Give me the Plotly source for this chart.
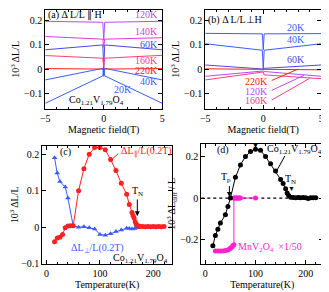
import plotly.graph_objects as go

W, H = 329, 292
FONT = "Liberation Serif"
FS = 10

# ---------------- data ----------------
field = [-5, -0.08, 0, 0.08, 5]

a_20K = [-0.142, -0.028, 0.004, -0.028, -0.142]
a_40K = [-0.045, 0.003, -0.030, 0.003, -0.045]
a_60K = [0.080, 0.100, 0.000, 0.100, 0.080]
a_120K = [0.198, 0.194, 0.120, 0.194, 0.198]
a_140K = [0.135, 0.124, 0.090, 0.124, 0.130]
a_160K = [0.056, 0.045, 0.010, 0.045, 0.057]
a_220K = [0.002, 0.000, -0.004, 0.000, 0.002]

b_20K = [0.148, 0.146, 0.080, 0.146, 0.147]
b_40K = [0.105, 0.078, 0.000, 0.078, 0.105]
b_60K = [0.017, 0.003, 0.000, 0.003, 0.017]
b_220K = [0.001, 0.000, 0.000, 0.000, -0.003]
b_120K = [-0.030, -0.006, -0.008, -0.010, -0.030]
b_160K = [-0.045, -0.010, -0.012, -0.024, -0.040]

c_T_par = [15, 20, 25, 30, 35, 40, 45, 50, 60, 70, 80, 90, 100, 110, 120, 130, 140, 150,
           155, 160, 162, 164, 166, 168, 170, 172, 175, 180, 185, 190, 195, 200, 205, 210, 215, 220]
c_par = [-0.040, -0.030, -0.028, -0.020, -0.002, 0.003, 0.004, 0.004, 0.100, 0.160, 0.200, 0.218,
         0.218, 0.212, 0.185, 0.155, 0.120, 0.090, 0.062, 0.040, 0.032, 0.025, 0.015, 0.008, 0.004,
         0.003, 0.002, 0.002, 0.001, 0.002, 0.001, 0.002, 0.001, 0.002, 0.001, 0.002]
c_T_perp = [15, 20, 25, 35, 40, 50, 60, 70, 80, 90, 100, 110, 120, 130, 140, 150, 155, 160, 165, 170]
c_perp = [0.190, 0.148, 0.125, 0.110, 0.080, 0.003, 0.000, 0.001, -0.002, -0.005, -0.020, -0.022,
          -0.018, -0.012, -0.008, -0.003, -0.004, -0.005, -0.004, -0.002]

d_T_co = [15, 20, 25, 30, 40, 45, 50, 60, 70, 80, 90, 100, 110, 120, 130, 140, 150, 155,
          160, 163, 166, 170, 175, 180, 185, 190, 195, 200, 205, 210, 215, 220]
d_co = [-0.230, -0.180, -0.150, -0.120, -0.080, -0.040, 0.000, 0.100, 0.160, 0.200, 0.225, 0.235,
        0.230, 0.200, 0.165, 0.130, 0.090, 0.070, 0.045, 0.025, 0.012, 0.004, 0.003, 0.002, 0.003,
        0.001, 0.003, 0.002, -0.002, 0.001, 0.002, 0.001]
d_T_mn = [20, 25, 30, 35, 40, 45, 48, 50, 53, 55, 57, 57, 58, 60, 62, 64, 66, 68, 70, 100]
d_mn = [-0.255, -0.255, -0.255, -0.255, -0.253, -0.250, -0.246, -0.242, -0.236, -0.228, -0.225,
        0.000, 0.000, 0.000, 0.000, 0.000, 0.000, 0.000, 0.000, 0.000]

BLUE = "#3a5cff"
BLUE2 = "#4a48e6"
VIOLET = "#b24cff"
MAGENTA = "#e03ad8"
PINK = "#ff3a8a"
RED = "#ff2020"
MN = "#ff20d0"

fig = go.Figure()


def line(x, y, color, xa, ya):
    fig.add_trace(go.Scatter(x=x, y=y, mode="lines", line=dict(color=color, width=1),
                             xaxis=xa, yaxis=ya, showlegend=False))

for y, c in [(a_20K, BLUE), (a_40K, BLUE), (a_60K, BLUE2), (a_160K, PINK),
             (a_140K, MAGENTA), (a_120K, VIOLET), (a_220K, RED)]:
    line(field, y, c, "x", "y")

for y, c in [(b_60K, BLUE2), (b_220K, RED), (b_120K, VIOLET), (b_160K, PINK),
             (b_20K, BLUE), (b_40K, BLUE)]:
    line(field, y, c, "x2", "y2")

fig.add_trace(go.Scatter(x=c_T_perp, y=c_perp, mode="lines+markers",
                         line=dict(color=BLUE, width=1),
                         marker=dict(symbol="triangle-up", size=5, color=BLUE),
                         xaxis="x3", yaxis="y3", showlegend=False))
fig.add_trace(go.Scatter(x=c_T_par, y=c_par, mode="lines+markers",
                         line=dict(color=RED, width=1),
                         marker=dict(symbol="circle", size=5, color=RED),
                         xaxis="x3", yaxis="y3", showlegend=False))

fig.add_trace(go.Scatter(x=d_T_mn, y=d_mn, mode="lines+markers",
                         line=dict(color=MN, width=1),
                         marker=dict(symbol="circle", size=5, color=MN),
                         xaxis="x4", yaxis="y4", showlegend=False))
fig.add_trace(go.Scatter(x=d_T_co, y=d_co, mode="lines+markers",
                         line=dict(color="black", width=1),
                         marker=dict(symbol="circle", size=5, color="black"),
                         xaxis="x4", yaxis="y4", showlegend=False))


def dx(a, b):
    return [a / W, b / W]


def dy(t, b):
    return [1 - b / H, 1 - t / H]


def xax(dom, rng, title, tickvals, anchor, dtick_minor):
    return dict(domain=dom, range=rng, anchor=anchor, showline=True, mirror="allticks",
                linecolor="black", linewidth=1, ticks="inside", ticklen=4, tickcolor="black",
                tickvals=tickvals, ticktext=[str(v).replace("-", "\u2212") for v in tickvals],
                showgrid=False, zeroline=False,
                minor=dict(ticks="inside", ticklen=2, dtick=dtick_minor, tickcolor="black"),
                title=dict(text=title, standoff=0, font=dict(size=FS)),
                tickfont=dict(size=FS))


def yax(dom, rng, title, tickvals, ticktext, anchor):
    return dict(domain=dom, range=rng, anchor=anchor, showline=True, mirror="allticks",
                linecolor="black", linewidth=1, ticks="inside", ticklen=4, tickcolor="black",
                tickvals=tickvals, ticktext=ticktext, showgrid=False, zeroline=False,
                title=dict(text=title, standoff=2, font=dict(size=FS)),
                tickfont=dict(size=FS))

ya_ticks = [0.2, 0.1, 0, -0.1]
ya_text = ["0.2", "0.1", "0", "\u22120.1"]

fig.update_layout(
    width=W, height=H, margin=dict(l=0, r=0, t=0, b=0),
    paper_bgcolor="white", plot_bgcolor="white",
    font=dict(family=FONT, size=FS, color="black"),
    xaxis=xax(dx(33, 153), [-5, 5], "Magnetic field(T)", [-5, 0, 5], "y", 1),
    yaxis=yax(dy(2, 103), [-0.165, 0.245], "10<sup>3</sup> \u0394L/L", ya_ticks, ya_text, "x"),
    xaxis2=xax(dx(197, 316), [-5, 5], "Magnetic field(T)", [-5, 0, 5], "y2", 1),
    yaxis2=yax(dy(2, 103), [-0.165, 0.245], "10<sup>3</sup> \u0394L/L", ya_ticks, ya_text, "x2"),
    xaxis3=xax(dx(30, 163), [-8, 235], "Temperature(K)", [0, 100, 200], "y3", 20),
    yaxis3=yax(dy(141, 261), [-0.1, 0.222], "10<sup>3</sup> \u0394L/L", ya_ticks, ya_text, "x3"),
    xaxis4=xax(dx(193, 318), [-8, 235], "Temperature(K)", [0, 100, 200], "y4", 20),
    yaxis4=yax(dy(139, 261), [-0.316, 0.26], "10<sup>3</sup> \u0394L<sub>diff</sub> / L",
               [0.2, 0, -0.2], ["0.2", "0", "\u22120.2"], "x4"),
)

fig.add_shape(type="line", xref="x4 domain", yref="y4", x0=0, x1=1, y0=0, y1=0,
              line=dict(color="black", width=1.2, dash="dot"), layer="below")

ann = []


def t(x, y, text, xr, yr, color="black", size=FS, xanchor="left", yanchor="middle"):
    ann.append(dict(x=x, y=y, xref=xr, yref=yr, text=text, showarrow=False,
                    font=dict(color=color, size=size, family=FONT),
                    xanchor=xanchor, yanchor=yanchor))

CO = "Co<sub>1.21</sub>V<sub>1.79</sub>O<sub>4</sub>"
# panel a
t(-4.9, 0.226, "(a) \u0394 L/L \u2225 H", "x", "y")
t(4.8, 0.226, "120K", "x", "y", VIOLET, xanchor="right")
t(4.8, 0.157, "140K", "x", "y", MAGENTA, xanchor="right")
t(4.8, 0.102, "60K", "x", "y", BLUE2, xanchor="right")
t(4.8, 0.037, "160K", "x", "y", PINK, xanchor="right")
t(4.8, -0.006, "220K", "x", "y", RED, xanchor="right")
t(4.8, -0.05, "40K", "x", "y", BLUE, xanchor="right")
t(2.6, -0.084, "20K", "x", "y", BLUE, xanchor="right")
t(-3.1, -0.13, CO, "x", "y")
# panel b
t(-4.9, 0.205, "(b) \u0394 L/L\u22a5H", "x2", "y2")
t(3.8, 0.172, "20K", "x2", "y2", BLUE, xanchor="right")
t(3.8, 0.122, "40K", "x2", "y2", BLUE, xanchor="right")
t(3.8, 0.04, "60K", "x2", "y2", BLUE2, xanchor="right")
for txt, yy, col, px, py in [("220K", -0.05, RED, 3.0, 0.0),
                             ("120K", -0.091, VIOLET, 3.5, -0.026),
                             ("160K", -0.132, PINK, 4.0, -0.038)]:
    ann.append(dict(x=px, y=py, xref="x2", yref="y2", ax=0.6, ay=yy, axref="x2", ayref="y2",
                    text="", showarrow=True, arrowhead=0, arrowcolor=col, arrowwidth=1))
    t(0.6, yy, txt, "x2", "y2", col, xanchor="right")
# panel c
t(22, 0.205, "(c)", "x3", "y3")
ann.append(dict(x=122, y=0.185, xref="x3", yref="y3", ax=137, ay=0.205, axref="x3", ayref="y3",
                text="", showarrow=True, arrowhead=0, arrowcolor=RED, arrowwidth=1))
t(136, 0.207, "\u0394L<sub>\u2225</sub>/L(0.2T)", "x3", "y3", RED)
ann.append(dict(x=170, y=0.03, xref="x3", yref="y3", ax=170, ay=0.08, axref="x3", ayref="y3",
                text="", showarrow=True, arrowhead=2, arrowsize=1, arrowcolor="black", arrowwidth=1))
t(170, 0.098, "T<sub>N</sub>", "x3", "y3", xanchor="center")
t(42, -0.058, "\u0394L<sub>\u22a5</sub>/L(0.2T)", "x3", "y3", BLUE)
t(232, -0.085, CO, "x3", "y3", xanchor="right")
# panel d
t(20, 0.23, "(d)", "x4", "y4")
t(98, 0.272, "T<sub>max</sub>", "x4", "y4", xanchor="center")
t(100, 0.25, "\u25bc", "x4", "y4", size=7, xanchor="center")
t(118, 0.232, CO, "x4", "y4")
ann.append(dict(x=142, y=0.13, xref="x4", yref="y4", ax=160, ay=0.21, axref="x4", ayref="y4",
                text="", showarrow=True, arrowhead=0, arrowcolor="black", arrowwidth=1))
t(42, 0.1, "T<sub>p</sub>", "x4", "y4", xanchor="center")
ann.append(dict(x=48, y=0.005, xref="x4", yref="y4", ax=48, ay=0.065, axref="x4", ayref="y4",
                text="", showarrow=True, arrowhead=2, arrowsize=1, arrowcolor="black", arrowwidth=1))
t(170, 0.09, "T<sub>N</sub>", "x4", "y4", xanchor="center")
t(171, 0.045, "\u25bc", "x4", "y4", size=7, xanchor="center")
t(62, -0.24, "MnV<sub>2</sub>O<sub>4</sub>  \u00d71/50", "x4", "y4", MN)

fig.update_layout(annotations=ann)
fig.write_html("out.html")
